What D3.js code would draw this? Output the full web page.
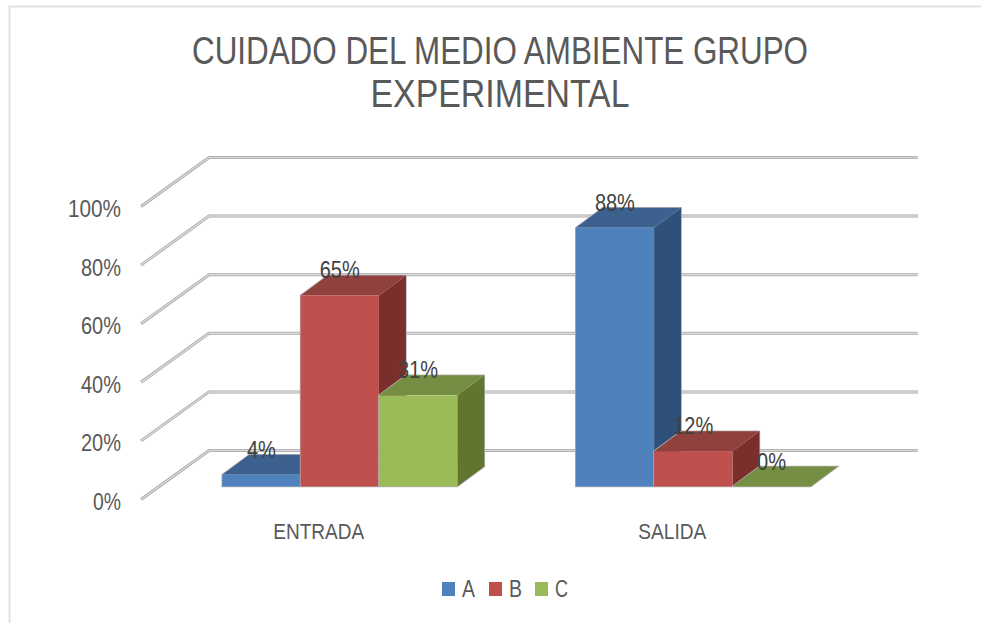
<!DOCTYPE html>
<html><head><meta charset="utf-8">
<script src="https://cdnjs.cloudflare.com/ajax/libs/d3/7.8.5/d3.min.js"></script>
<style>html,body{margin:0;padding:0;background:#fff}svg{display:block}text{font-family:"Liberation Sans",Arial,sans-serif;fill:#595959}</style>
</head><body><svg id="c" width="981" height="623"></svg>
<script>
const categories = ["ENTRADA", "SALIDA"];
const seriesNames = ["A", "B", "C"];
const seriesA = [0.04, 0.88];
const seriesB = [0.65, 0.12];
const seriesC = [0.31, 0.00];
const tickValues = [0, 0.2, 0.4, 0.6, 0.8, 1];
const titleLines = ["CUIDADO DEL MEDIO AMBIENTE GRUPO", "EXPERIMENTAL"];
const front = ["#4f81bd", "#c0504d", "#9bbb59"];
const topFace = ["#3c618e", "#90403d", "#758e43"];
const sideFace = ["#2f5078", "#7b2f2d", "#62752f"];
const values = [seriesA, seriesB, seriesC];

const svg = d3.select("#c");
const y = d3.scaleLinear().domain([0, 1]).range([0, -293]);
const yBar = d3.scaleLinear().domain([0, 1]).range([0, -294]);
const x0 = d3.scaleBand().domain(categories).range([163, 870]).paddingInner(0.335).paddingOuter(0.1675);
const x1 = d3.scaleBand().domain(seriesNames).range([0, x0.bandwidth()]);
const baseY = 486.5, wallY = 450.5, axisY = 499.5, axisX = 141, wallX = 209, wallR = 918;
const depth = [27, -20];

// frame
svg.append("path").attr("d", "M9.5,623V6.5H981").attr("fill", "none").attr("stroke", "#e2e2e2").attr("stroke-width", 2);

// title
titleLines.forEach((t, i) => svg.append("text").attr("x", 500).attr("y", 64 + i * 43)
  .attr("text-anchor", "middle").attr("font-size", 38).attr("textLength", i ? 259 : 616)
  .attr("lengthAdjust", "spacingAndGlyphs").text(t));

// gridlines
const grid = svg.append("g");
tickValues.forEach(v => {
  const d = y(v);
  const path = `M${axisX},${axisY + d}L${wallX},${wallY + d}H${wallR}`;
  grid.append("path").attr("d", path).attr("fill", "none").attr("stroke", "#a6a6a6").attr("stroke-width", 3);
  grid.append("path").attr("d", path).attr("fill", "none").attr("stroke", "#d9d9d9").attr("stroke-width", 1.5);
});

// axis labels
const yTicks = svg.append("g");
tickValues.forEach(v => yTicks.append("text").attr("x", 121).attr("y", axisY + y(v) + 10.5)
  .attr("text-anchor", "end").attr("font-size", 24).attr("textLength", v === 1 ? 53 : v === 0 ? 28 : 40)
  .attr("lengthAdjust", "spacingAndGlyphs").text(d3.format(".0%")(v)));

// bars
categories.forEach((c, ci) => {
  seriesNames.forEach((s, si) => {
    const v = values[si][ci];
    const xl = x0(c) + x1(s), xr = xl + x1.bandwidth();
    const yb = baseY, yt = baseY + yBar(v);
    const [dx, dy] = depth;
    const g = svg.append("g");
    const outline = v > 0
      ? [[xl, yb], [xl, yt], [xl + dx, yt + dy], [xr + dx, yt + dy], [xr + dx, yb + dy], [xr, yb]]
      : [[xl, yb], [xl + dx, yb + dy], [xr + dx, yb + dy], [xr, yb]];
    g.append("polygon").attr("points", outline.join(" ")).attr("fill", "none").attr("stroke", "#b3b3b3").attr("stroke-width", 1.5);
    if (v > 0) g.append("polygon").attr("points", [[xr, yb], [xr, yt], [xr + dx, yt + dy], [xr + dx, yb + dy]].join(" ")).attr("fill", sideFace[si]);
    g.append("polygon").attr("points", [[xl, yt], [xl + dx, yt + dy], [xr + dx, yt + dy], [xr, yt]].join(" ")).attr("fill", topFace[si]);
    if (v > 0) g.append("rect").attr("x", xl).attr("y", yt).attr("width", xr - xl).attr("height", yb - yt).attr("fill", front[si]);
  });
});

// data labels
categories.forEach((c, ci) => seriesNames.forEach((s, si) => {
  const v = values[si][ci];
  svg.append("text").attr("x", x0(c) + x1(s) + x1.bandwidth() / 2).attr("y", baseY + yBar(v) - 17)
    .attr("text-anchor", "middle").attr("font-size", 24).attr("textLength", v === 0 ? 29 : v === 0.04 ? 29 : 40)
    .attr("lengthAdjust", "spacingAndGlyphs").style("fill", "#404040").text(d3.format(".0%")(v));
}));

// category labels
categories.forEach((c, i) => svg.append("text").attr("x", x0(c) + x0.bandwidth() / 2 - 21).attr("y", 539)
  .attr("text-anchor", "middle").attr("font-size", 22).attr("textLength", i ? 68 : 91)
  .attr("lengthAdjust", "spacingAndGlyphs").text(c));

// legend
const legendX = [442, 489, 535];
seriesNames.forEach((s, i) => {
  svg.append("rect").attr("x", legendX[i]).attr("y", 582).attr("width", 13).attr("height", 14).attr("fill", front[i]);
  svg.append("text").attr("x", legendX[i] + 20).attr("y", 597).attr("font-size", 24).attr("textLength", 13)
    .attr("lengthAdjust", "spacingAndGlyphs").text(s);
});
</script></body></html>
